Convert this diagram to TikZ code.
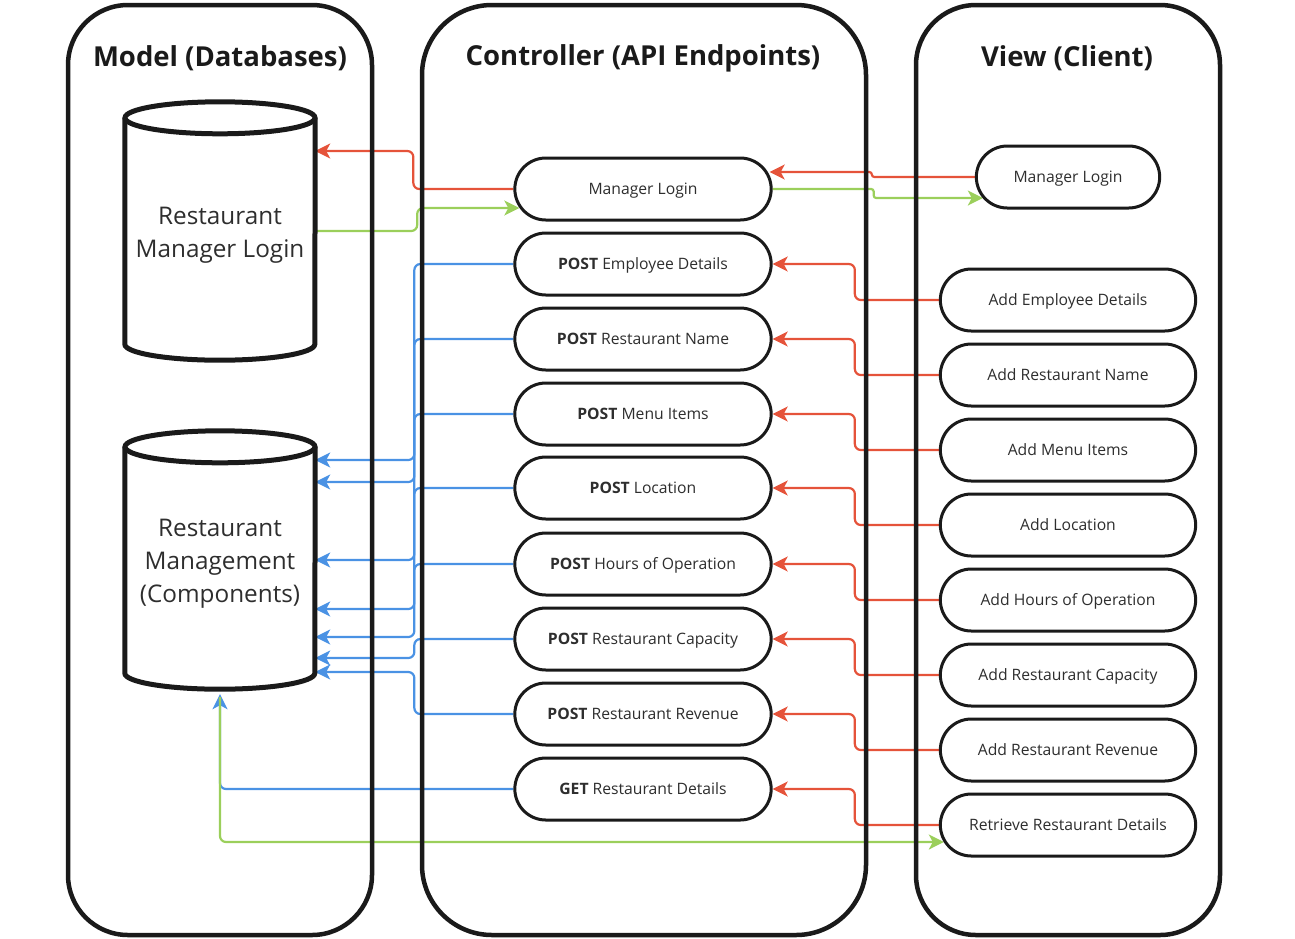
\documentclass[tikz,border=0pt]{standalone}
\usepackage{fontspec}
\setmainfont{Open Sans}
\usetikzlibrary{shapes.misc,arrows.meta,backgrounds}
\definecolor{linkred}{HTML}{E5533A}
\definecolor{linkgreen}{HTML}{9BCF5B}
\definecolor{linkblue}{HTML}{4A92E4}
\definecolor{textgrey}{HTML}{2E2E2E}
\definecolor{edge}{HTML}{1A1A1A}

\begin{document}
\begin{tikzpicture}[x=1pt,y=-1pt,
    panel/.style={draw=edge,line width=4.5pt,rounded corners=60pt,minimum width=304pt,minimum height=930pt},
    paneltitle/.style={font=\fontsize{27.5}{32}\selectfont\bfseries,text=edge},
    dbbox/.style={minimum width=190pt,minimum height=258pt},
    dbtext/.style={align=center,text=textgrey,font=\fontsize{24.3}{33}\selectfont},
    dbline/.style={draw=edge,line width=5pt},
    ctrlbox/.style={rounded rectangle,draw=edge,line width=3pt,fill=white,minimum width=263pt,minimum height=62pt,
      text height=15pt,text depth=4pt,text=textgrey,font=\fontsize{15.7}{18}\selectfont},
    viewbox/.style={ctrlbox,minimum width=262pt},
    link/.style={line width=2.2pt,rounded corners=6pt,-{Stealth[length=15pt,width=15pt,inset=4pt]}},
    redlink/.style={link,draw=linkred,color=linkred},
    greenlink/.style={link,draw=linkgreen,color=linkgreen},
    bluelink/.style={link,draw=linkblue,color=linkblue}]
  \useasboundingbox (0,0) rectangle (1295,938);

  % Panels
  \draw (220,470) node[panel](model){};
  \draw (644,470) node[panel,minimum width=444pt,rounded corners=70pt](ctrl){};
  \draw (1068,470) node[panel](view){};
  \draw (220,58) node[paneltitle](modeltitle){Model (Databases)};
  \draw (643,58) node[paneltitle](ctrltitle){Controller (API Endpoints)};
  \draw (1067,58) node[paneltitle](viewtitle){View (Client)};

  % Databases
  \draw (220,231) node[dbbox](mgrdb){};
  \draw (220,235) node[dbtext](mgrtext){Restaurant\\Manager Login};
  \draw[dbline] ([yshift=-16pt]mgrdb.north west) -- ([yshift=16pt]mgrdb.south west)
    arc[start angle=180,end angle=360,x radius=95pt,y radius=16pt] -- ([yshift=-16pt]mgrdb.north east);
  \draw[dbline] ([yshift=-16pt]mgrdb.north) ellipse[x radius=95pt,y radius=16pt];
  \draw (220,560) node[dbbox](mgtdb){};
  \draw (220,564) node[dbtext](mgttext){Restaurant\\Management\\(Components)};
  \draw[dbline] ([yshift=-16pt]mgtdb.north west) -- ([yshift=16pt]mgtdb.south west)
    arc[start angle=180,end angle=360,x radius=95pt,y radius=16pt] -- ([yshift=-16pt]mgtdb.north east);
  \draw[dbline] ([yshift=-16pt]mgtdb.north) ellipse[x radius=95pt,y radius=16pt];

  % Endpoints
  \draw (643,189) node[ctrlbox](clogin){Manager Login};
  \draw (643,264) node[ctrlbox](cemp){\textbf{POST} Employee Details};
  \draw (643,339) node[ctrlbox](cname){\textbf{POST} Restaurant Name};
  \draw (643,414) node[ctrlbox](cmenu){\textbf{POST} Menu Items};
  \draw (643,488) node[ctrlbox](cloc){\textbf{POST} Location};
  \draw (643,564) node[ctrlbox](chours){\textbf{POST} Hours of Operation};
  \draw (643,639) node[ctrlbox](ccap){\textbf{POST} Restaurant Capacity};
  \draw (643,714) node[ctrlbox](crev){\textbf{POST} Restaurant Revenue};
  \draw (643,789) node[ctrlbox](cget){\textbf{GET} Restaurant Details};

  % Client
  \draw (1068,177) node[viewbox,minimum width=190pt](vlogin){Manager Login};
  \draw (1068,300) node[viewbox](vemp){Add Employee Details};
  \draw (1068,375) node[viewbox](vname){Add Restaurant Name};
  \draw (1068,450) node[viewbox](vmenu){Add Menu Items};
  \draw (1068,525) node[viewbox](vloc){Add Location};
  \draw (1068,600) node[viewbox](vhours){Add Hours of Operation};
  \draw (1068,675) node[viewbox](vcap){Add Restaurant Capacity};
  \draw (1068,750) node[viewbox](vrev){Add Restaurant Revenue};
  \draw (1068,825) node[viewbox](vret){Retrieve Restaurant Details};

  \begin{scope}[on background layer]
    % login
    \draw[redlink] (clogin.west) -- ++(-100,0) |- ([yshift=80pt]mgrdb.east);
    \draw[greenlink] (mgrdb.east) -- ++(102,0) |- ([xshift=6pt,yshift=-19pt]clogin.west);
    \draw[redlink,rounded corners=2.5pt] (vlogin.west) -- ++(-103,0) |- ([xshift=-3pt,yshift=17pt]clogin.east);
    \draw[greenlink,rounded corners=2.5pt] (clogin.east) -- ++(101,0) |- ([xshift=8pt,yshift=-21pt]vlogin.west);
    % client to endpoints
    \draw[redlink] (vemp.west) -- ++(-84,0) |- (cemp.east);
    \draw[redlink] (vname.west) -- ++(-84,0) |- (cname.east);
    \draw[redlink] (vmenu.west) -- ++(-84,0) |- (cmenu.east);
    \draw[redlink] (vloc.west) -- ++(-84,0) |- (cloc.east);
    \draw[redlink] (vhours.west) -- ++(-84,0) |- (chours.east);
    \draw[redlink] (vcap.west) -- ++(-84,0) |- (ccap.east);
    \draw[redlink] (vrev.west) -- ++(-84,0) |- (crev.east);
    \draw[redlink] (vret.west) -- ++(-84,0) |- (cget.east);
    % endpoints to database
    \draw[bluelink] (cemp.west) -- ++(-99,0) |- ([yshift=100pt]mgtdb.east);
    \draw[bluelink] (cname.west) -- ++(-99,0) |- ([yshift=78pt]mgtdb.east);
    \draw[bluelink] (cmenu.west) -- ++(-99,0) |- (mgtdb.east);
    \draw[bluelink] (cloc.west) -- ++(-99,0) |- ([yshift=-49pt]mgtdb.east);
    \draw[bluelink] (chours.west) -- ++(-99,0) |- ([yshift=-77pt]mgtdb.east);
    \draw[bluelink] (ccap.west) -- ++(-99,0) |- ([yshift=-98pt]mgtdb.east);
    \draw[bluelink] (crev.west) -- ++(-99,0) |- ([yshift=-112pt]mgtdb.east);
    \draw[bluelink] (cget.west) -| ([yshift=-5pt]mgtdb.south);
    \draw[greenlink] ([yshift=-8pt]mgtdb.south) |- ([xshift=5pt,yshift=-17pt]vret.west);
  \end{scope}
\end{tikzpicture}
\end{document}
